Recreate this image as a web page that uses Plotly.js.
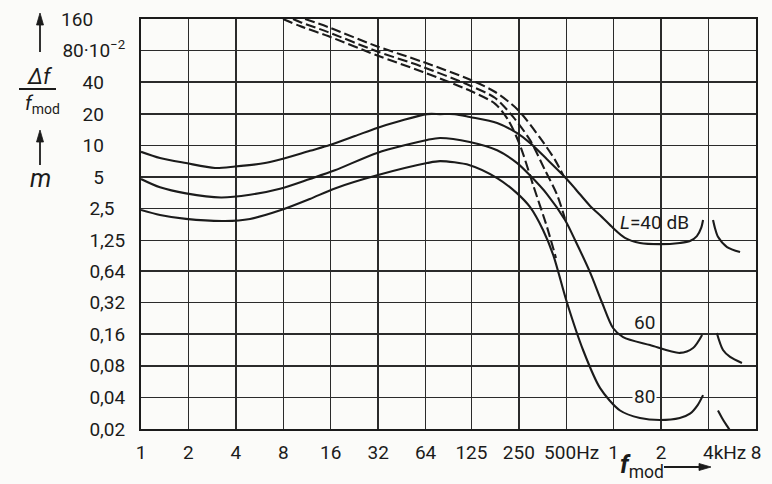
<!DOCTYPE html>
<html>
<head>
<meta charset="utf-8">
<script src="https://cdn.plot.ly/plotly-3.0.1.min.js"></script>
<style>html,body{margin:0;padding:0;background:#fbfbf9;}#chart{width:772px;height:484px;}</style>
</head>
<body>
<div id="chart"></div>
<script>
// ---- axis ticks ----
const xTickVals = [1, 2, 4, 8, 16, 32, 64, 125, 250, 500, 1000, 2000, 4000, 8000];
const xTickText = ["1", "2", "4", "8", "16", "32", "64", "125", "250", "\u2007500Hz", "1", "2", "\u2007\u2007\u20074kHz", "8"];
const yTickVals = [0.02, 0.04, 0.08, 0.16, 0.32, 0.64, 1.25, 2.5, 5, 10, 20, 40, 80, 160];
const yTickText = ["0,02", "0,04", "0,08", "0,16", "0,32", "0,64", "1,25", "2,5\u2007", "5\u2007\u2007", "10\u2007\u2007", "20\u2007\u2007", "40\u2007\u2007", "80·10<sup>−2</sup>", "160\u2007\u2007\u2007"];

// ---- L = 40 dB ----
const f40 = [1, 1.32, 1.93, 2.95, 3.95, 6.12, 7.74, 11.8, 15.8, 22.8, 31.5, 44, 65.4, 79, 98, 122, 182, 244, 294, 377, 478, 568, 708, 843, 990, 1178, 1468, 1965, 2628, 3050, 3372, 3590, 3691];
const m40 = [8.7, 7.6, 6.8, 6.1, 6.3, 6.8, 7.4, 8.9, 10.1, 12.3, 14.7, 17.1, 19.9, 19.9, 19.9, 18.7, 16.4, 13.1, 10.6, 7.4, 5.2, 3.9, 2.66, 2.08, 1.64, 1.32, 1.18, 1.15, 1.18, 1.23, 1.37, 1.64, 1.95];
const f40b = [4270, 4390, 4590, 5240, 6338];
const m40b = [1.95, 1.64, 1.35, 1.08, 0.97];

// ---- L = 60 dB ----
const f60 = [1, 1.32, 1.93, 3.22, 4.92, 7.74, 11.8, 17.0, 31.5, 65.4, 79, 122, 182, 244, 294, 377, 491, 568, 708, 843, 990, 1147, 1700, 2628, 3190, 3640];
const m60 = [4.8, 4.0, 3.5, 3.2, 3.4, 3.9, 4.8, 5.8, 8.5, 11.3, 11.8, 10.8, 9.0, 6.8, 5.2, 3.45, 1.95, 1.26, 0.62, 0.32, 0.183, 0.150, 0.126, 0.106, 0.118, 0.157];
const f60b = [4513, 4940, 5479, 6516];
const m60b = [0.164, 0.113, 0.097, 0.085];

// ---- L = 80 dB ----
const f80 = [1, 1.32, 1.93, 3.41, 4.92, 7.74, 11.8, 17.0, 31.5, 65.4, 79, 122, 182, 244, 294, 356, 413, 505, 639, 820, 1097, 1468, 1965, 2628, 3050, 3420, 3691];
const m80 = [2.43, 2.18, 2.0, 1.91, 2.0, 2.43, 3.1, 3.9, 5.2, 6.8, 7.1, 6.5, 4.9, 3.5, 2.6, 1.57, 0.91, 0.32, 0.113, 0.049, 0.030, 0.0255, 0.0244, 0.0255, 0.028, 0.034, 0.042];
const f80b = [4590, 4870, 5238, 5556];
const m80b = [0.030, 0.0255, 0.0214, 0.0187];

// ---- dashed limit curves ----
const fDashA = [7.97, 10.2, 15.4, 31.0, 61.6, 124, 177, 214, 254, 308, 377, 430];
const mDashA = [160, 137, 110, 72.7, 50.1, 33.0, 24.9, 17.5, 10.1, 4.2, 1.68, 0.85];
const fDashB = [9.22, 10.2, 15.4, 31.0, 61.6, 124, 177, 230, 294, 367, 437, 491];
const mDashB = [160, 150, 120, 79.4, 55.9, 36.9, 28.3, 18.7, 11.3, 5.8, 3.4, 2.0];
const fDashC = [11.0, 15.4, 31.0, 61.6, 124, 177, 247, 341, 424, 478];
const mDashC = [160, 134, 88.6, 62.4, 42.0, 32.3, 21.8, 11.8, 7.3, 5.2];

const ink = '#1b1b1b';
const solid = {color: ink, width: 2.1, shape: 'spline', smoothing: 0.8};
const dashed = {color: ink, width: 2.1, dash: '10px,4px', shape: 'spline', smoothing: 0.8};

function tr(x, y, line) {
  return {x: x, y: y, type: 'scatter', mode: 'lines', line: line, hoverinfo: 'skip', showlegend: false};
}

const traces = [
  tr(f40, m40, solid), tr(f40b, m40b, solid),
  tr(f60, m60, solid), tr(f60b, m60b, solid),
  tr(f80, m80, solid), tr(f80b, m80b, solid),
  tr(fDashA, mDashA, dashed), tr(fDashB, mDashB, dashed), tr(fDashC, mDashC, dashed)
];

const fontFam = "Roboto, 'Liberation Sans', sans-serif";
const tickFont = {family: fontFam, size: 19, color: ink};
const W = 615, H = 410, L0 = 141, T0 = 19;
const px = v => (v - L0) / W;
const py = v => (T0 + H - v) / H;

function arrowShapes(x0, y0, x1, y1) {
  const dx = x1 - x0, dy = y1 - y0, len = Math.hypot(dx, dy);
  const ux = dx / len, uy = dy / len, hl = 12, hw = 3.5;
  const bx = x1 - ux * hl, by = y1 - uy * hl;
  const p1 = [bx - uy * hw, by + ux * hw], p2 = [bx + uy * hw, by - ux * hw];
  return [
    {type: 'line', xref: 'paper', yref: 'paper', x0: px(x0), y0: py(y0), x1: px(bx), y1: py(by), line: {color: ink, width: 1.8}},
    {type: 'path', xref: 'paper', yref: 'paper', fillcolor: ink, line: {color: ink, width: 0.8},
      path: `M ${px(x1)} ${py(y1)} L ${px(p1[0])} ${py(p1[1])} L ${px(p2[0])} ${py(p2[1])} Z`}
  ];
}

const ann = (x, y, text, size, extra) => Object.assign({xref: 'paper', yref: 'paper', x: px(x), y: py(y), xanchor: 'center', yanchor: 'middle', text: text, showarrow: false, font: {family: fontFam, size: size, color: ink}}, extra || {});

const layout = {
  width: 772, height: 484,
  margin: {l: 141, r: 16, t: 19, b: 55, pad: 0},
  paper_bgcolor: '#fbfbf9', plot_bgcolor: '#fbfbf9',
  showlegend: false,
  xaxis: {
    type: 'log', range: [0, Math.log10(8000)],
    tickmode: 'array', tickvals: xTickVals, ticktext: xTickText, tickangle: 0,
    showgrid: true, gridcolor: '#2b2b2b', gridwidth: 1.5,
    showline: true, linecolor: ink, linewidth: 2, mirror: true,
    ticks: '', ticklabelstandoff: 5, tickfont: tickFont, zeroline: false, automargin: false
  },
  yaxis: {
    type: 'log', range: [Math.log10(0.02), Math.log10(160)],
    tickmode: 'array', tickvals: yTickVals, ticktext: yTickText,
    showgrid: true, gridcolor: '#2b2b2b', gridwidth: 1.5,
    showline: true, linecolor: ink, linewidth: 2, mirror: true,
    ticks: '', ticklabelstandoff: 10, tickfont: tickFont, zeroline: false, automargin: false
  },
  annotations: [
    ann(40, 76, '<i>Δf</i>', 22),
    ann(42, 104, '<i>f</i><sub>mod</sub>', 20),
    ann(40, 178, '<i>m</i>', 25),
    ann(642, 466, '<i><b>f</b></i><sub>mod</sub>', 25),
    ann(654, 222, '<i>L</i>=40 dB', 19),
    ann(644, 322, '60', 19),
    ann(644, 396, '80', 19, {bgcolor: '#fbfbf9', borderpad: 1})
  ],
  shapes: [
    {type: 'line', xref: 'paper', yref: 'paper', x0: px(19), x1: px(56), y0: py(89), y1: py(89), line: {color: ink, width: 1.8}}
  ].concat(arrowShapes(40, 52, 40, 13), arrowShapes(40, 165, 40, 130), arrowShapes(664, 467, 711, 467))
};

Plotly.newPlot('chart', traces, layout, {displayModeBar: false, staticPlot: true});
</script>
</body>
</html>
